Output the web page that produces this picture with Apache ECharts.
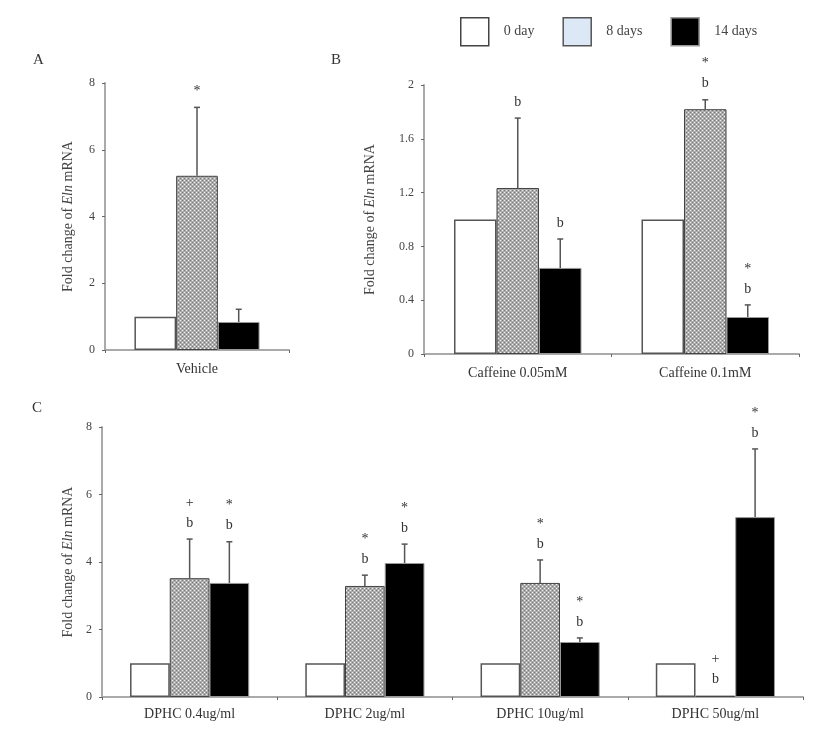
<!DOCTYPE html>
<html><head><meta charset="utf-8">
<script src="https://cdn.jsdelivr.net/npm/echarts@6/dist/echarts.min.js"></script>
<style>html,body{margin:0;padding:0;background:#fff}#c{width:827px;height:729px}</style>
</head><body><div id="c"></div>
<script>
// ---- data ----
var seriesNames = ['0 day', '8 days', '14 days'];

var catsA = ['Vehicle'];
var A_day0 = [1], A_day8 = [5.22], A_day14 = [0.84];
var A_err8 = [2.05], A_err14 = [0.38];
var A_sig8 = [['*']], A_sig14 = [[]];

var catsB = ['Caffeine 0.05mM', 'Caffeine 0.1mM'];
var B_day0 = [1, 1], B_day8 = [1.234, 1.82], B_day14 = [0.64, 0.275];
var B_err8 = [0.52, 0.07], B_err14 = [0.215, 0.09];
var B_sig8 = [['b'], ['b', '*']], B_sig14 = [['b'], ['b', '*']];

var catsC = ['DPHC 0.4ug/ml', 'DPHC 2ug/ml', 'DPHC 10ug/ml', 'DPHC 50ug/ml'];
var C_day0 = [1, 1, 1, 1];
var C_day8 = [3.52, 3.29, 3.38, 0.04];
var C_day14 = [3.38, 3.97, 1.63, 5.33];
var C_err8 = [1.16, 0.32, 0.68, 0];
var C_err14 = [1.22, 0.56, 0.12, 2.02];
var C_sig8 = [['b', '+'], ['b', '*'], ['b', '*'], ['b', '+']];
var C_sig14 = [['b', '*'], ['b', '*'], ['b', '*'], ['b', '*']];

var yTicksA = [0, 8, 2], yTicksB = [0, 2, 0.4], yTicksC = [0, 8, 2]; // min, max, interval

// ---- styles ----
var FONT = 'Liberation Serif';
var GAP = 0.32;
function hatch() {
  var cv = document.createElement('canvas'); cv.width = 4; cv.height = 4;
  var g = cv.getContext('2d');
  g.fillStyle = '#acacac'; g.fillRect(0, 0, 4, 4);
  g.fillStyle = '#f2f2f2'; g.fillRect(0, 0, 1, 1); g.fillRect(2, 2, 1, 1);
  g.fillStyle = '#7a7a7a'; g.fillRect(2, 0, 1, 1); g.fillRect(0, 2, 1, 1);
  return cv;
}
var hatchPat = { image: hatch(), repeat: 'repeat' };
var barStyles = [
  { color: '#fff', borderColor: '#555', borderWidth: 1.5 },
  { color: hatchPat, borderColor: '#444', borderWidth: 1 },
  { color: '#000', borderColor: '#999', borderWidth: 1 }
];

function bar(name, data, gi) {
  return { type: 'bar', name: name, data: data, xAxisIndex: gi, yAxisIndex: gi,
    barGap: '0%', barCategoryGap: (GAP * 100) + '%', itemStyle: barStyles[seriesNames.indexOf(name)],
    emphasis: { disabled: true }, animation: false };
}
function errs(vals, es, sigs, idx, gi) {
  return { type: 'custom', name: 'err' + gi + '_' + idx, xAxisIndex: gi, yAxisIndex: gi, animation: false,
    data: vals.map(function (v, i) { return [i, v, es[i]]; }),
    encode: { x: 0, y: 1 }, z: 5,
    renderItem: function (params, api) {
      var c = api.value(0), v = api.value(1), e = api.value(2);
      var base = api.coord([c, v]), top = api.coord([c, v + e]);
      var bw = api.size([1, 0])[0] * (1 - GAP) / 3;
      var x = base[0] + (idx - 1) * bw;
      var ch = [];
      if (e > 0) {
        ch.push({ type: 'line', shape: { x1: x, y1: base[1], x2: x, y2: top[1] }, style: { stroke: '#555', lineWidth: 1.5 } });
        ch.push({ type: 'line', shape: { x1: x - 3, y1: top[1], x2: x + 3, y2: top[1] }, style: { stroke: '#555', lineWidth: 1.5 } });
      }
      var s = sigs[params.dataIndex] || [];
      s.forEach(function (t, j) {
        ch.push({ type: 'text', style: { text: t, x: x, y: top[1] - 16 - j * 20, align: 'center', verticalAlign: 'middle',
          font: '14px "' + FONT + '"', fill: '#333' } });
      });
      return { type: 'group', children: ch };
    } };
}
function xAx(cats, gi, margin) {
  return { type: 'category', gridIndex: gi, data: cats,
    axisLine: { lineStyle: { color: '#aaa', width: 2 } },
    axisTick: { show: true, alignWithLabel: false, length: 3, lineStyle: { color: '#666' } },
    axisLabel: { margin: margin, fontFamily: FONT, fontSize: 14, color: '#333' } };
}
function yAx(t, gi, gap) {
  return { type: 'value', gridIndex: gi, min: t[0], max: t[1], interval: t[2],
    splitLine: { show: false },
    axisLine: { show: true, lineStyle: { color: '#aaa', width: 2 } },
    axisTick: { show: true, length: 3, lineStyle: { color: '#666' } },
    axisLabel: { margin: 10, fontFamily: FONT, fontSize: 12, color: '#444' },
    name: '{n|Fold change of }{i|Eln}{n| mRNA}', nameLocation: 'middle', nameGap: gap, nameRotate: 90,
    nameTextStyle: { rich: { n: { fontFamily: FONT, fontSize: 14, color: '#444' }, i: { fontFamily: FONT, fontSize: 14, fontStyle: 'italic', color: '#444' } } } };
}

var series = [];
series.push(bar('0 day', A_day0, 0), bar('8 days', A_day8, 0), bar('14 days', A_day14, 0));
series.push(errs(A_day8, A_err8, A_sig8, 1, 0), errs(A_day14, A_err14, A_sig14, 2, 0));
series.push(bar('0 day', B_day0, 1), bar('8 days', B_day8, 1), bar('14 days', B_day14, 1));
series.push(errs(B_day8, B_err8, B_sig8, 1, 1), errs(B_day14, B_err14, B_sig14, 2, 1));
series.push(bar('0 day', C_day0, 2), bar('8 days', C_day8, 2), bar('14 days', C_day14, 2));
series.push(errs(C_day8, C_err8, C_sig8, 1, 2), errs(C_day14, C_err14, C_sig14, 2, 2));

var chart = echarts.init(document.getElementById('c'), null, { renderer: 'canvas' });
chart.setOption({
  animation: false,
  title: [
    { text: 'A', left: 28, top: 48, textStyle: { fontFamily: FONT, fontSize: 15, fontWeight: 'normal', color: '#333' } },
    { text: 'B', left: 326, top: 48, textStyle: { fontFamily: FONT, fontSize: 15, fontWeight: 'normal', color: '#333' } },
    { text: 'C', left: 27, top: 396, textStyle: { fontFamily: FONT, fontSize: 15, fontWeight: 'normal', color: '#333' } }
  ],
  legend: {
    left: 455, top: 12, itemWidth: 28, itemHeight: 28, itemGap: 28,
    textStyle: { fontFamily: FONT, fontSize: 14, color: '#444', padding: [0, 0, 0, 10] },
    data: [
      { name: '0 day', icon: 'rect', itemStyle: { color: '#fff', borderColor: '#444', borderWidth: 1.5 } },
      { name: '8 days', icon: 'rect', itemStyle: { color: '#dce8f6', borderColor: '#555', borderWidth: 1.5 } },
      { name: '14 days', icon: 'rect', itemStyle: { color: '#000', borderColor: '#999', borderWidth: 1.5 } }
    ]
  },
  grid: [
    { left: 105, top: 83, width: 184, height: 267 },
    { left: 424, top: 85, width: 375, height: 269 },
    { left: 102, top: 427, width: 701, height: 270 }
  ],
  xAxis: [xAx(catsA, 0, 12), xAx(catsB, 1, 12), xAx(catsC, 2, 10)],
  yAxis: [yAx(yTicksA, 0, 30), yAx(yTicksB, 1, 47), yAx(yTicksC, 2, 27)],
  series: series
});
</script></body></html>
